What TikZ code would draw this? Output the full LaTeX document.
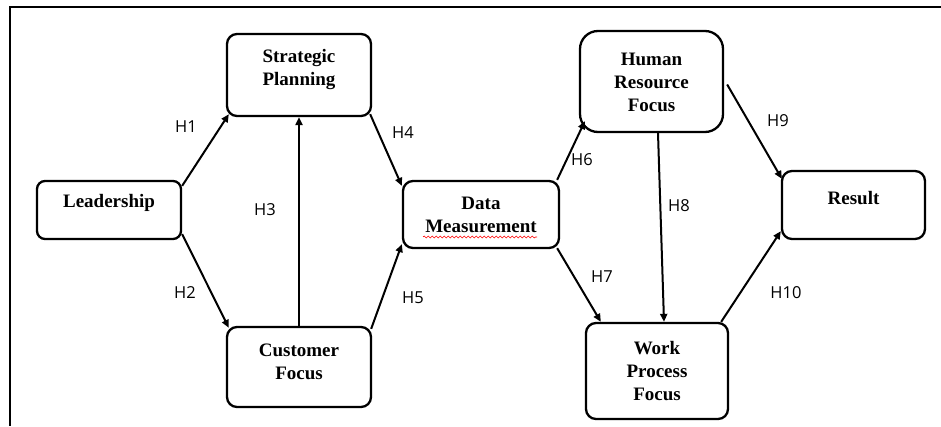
\documentclass[tikz,border=0pt]{standalone}
\usepackage{fontspec}
\setmainfont{Liberation Serif}
\newfontfamily\lblfont{Open Sans}
\usetikzlibrary{arrows.meta,decorations.pathmorphing}
\tikzset{
  box/.style={draw, line width=2.3pt, rounded corners=10pt, inner sep=0pt},
  boxtxt/.style={font=\fontsize{19}{23}\selectfont\bfseries, align=center},
  hyp/.style={font=\lblfont\fontsize{16.5}{19}\selectfont},
  link/.style={line width=2pt, -{Triangle[length=8pt,width=7pt]}},
}
\begin{document}
\begin{tikzpicture}[x=1pt,y=-1pt]
\useasboundingbox (0,0) rectangle (941,426);
\draw[line width=2.2pt] (941,7) -- (10,7) -- (10,426);

\node[box, rounded corners=8pt, minimum width=144pt, minimum height=58pt] (lead) at (109,210) {};
\node[boxtxt] (leadt) at (109,203) {Leadership};

\node[box, minimum width=144pt, minimum height=82pt] (sp) at (299,75) {};
\node[boxtxt] (spt) at (299,69.5) {Strategic\\Planning};

\node[box, minimum width=144pt, minimum height=80pt] (cf) at (299,367) {};
\node[boxtxt] (cft) at (299,361.5) {Customer\\Focus};

\node[box, minimum width=156pt, minimum height=67pt] (dm) at (481,214.5) {};
\node[boxtxt] (dmt) at (481,215) {Data\\Measurement};
\draw[red, line width=0.6pt, decorate, decoration={snake, segment length=4pt, amplitude=1pt}] (423,237) -- (537,237);

\node[box, rounded corners=18pt, minimum width=143pt, minimum height=101pt] (hr) at (651.5,81.5) {};
\node[boxtxt] (hrt) at (651.5,82.5) {Human\\Resource\\Focus};

\node[box, minimum width=143pt, minimum height=68pt] (res) at (853.5,205) {};
\node[boxtxt] (rest) at (853.5,198) {Result};

\node[box, minimum width=142pt, minimum height=96pt] (wp) at (657,371) {};
\node[boxtxt] (wpt) at (657,371) {Work\\Process\\Focus};

% connectors
\draw[link] ([yshift=-6pt]lead.north east) -- ([xshift=3pt,yshift=3pt]sp.south west);
\draw[link] ([yshift=6pt]lead.south east) -- ([xshift=3pt,yshift=-2pt]cf.north west);
\draw[link] (cf.north) -- (sp.south);
\draw[link] ([xshift=-2pt,yshift=3pt]sp.south east) -- ([yshift=-6pt]dm.north west);
\draw[link] ([xshift=-1pt,yshift=-3pt]cf.north east) -- ([yshift=5pt]dm.south west);
\draw[link] ([xshift=-3pt]dm.north east) -- ([xshift=6pt,yshift=12pt]hr.south west);
\draw[link] ([xshift=-3pt,yshift=1pt]dm.south east) -- ([xshift=16pt]wp.north west);
\draw[link] ([xshift=6.5pt]hr.south) -- ([xshift=7pt]wp.north);
\draw[link] ([xshift=3pt,yshift=-3pt]hr.east) -- ([xshift=1pt,yshift=-9pt]res.north west);
\draw[link] ([xshift=-8pt]wp.north east) -- ([yshift=9pt]res.south west);

% labels
\node[hyp] (h1) at (186,127) {H1};
\node[hyp] (h2) at (185,293) {H2};
\node[hyp] (h3) at (265,210) {H3};
\node[hyp] (h4) at (403,133) {H4};
\node[hyp] (h5) at (413,298) {H5};
\node[hyp] (h6) at (582,160) {H6};
\node[hyp] (h7) at (602,277) {H7};
\node[hyp] (h8) at (679,206) {H8};
\node[hyp] (h9) at (778,121) {H9};
\node[hyp] (h10) at (786,293) {H10};
\end{tikzpicture}
\end{document}
